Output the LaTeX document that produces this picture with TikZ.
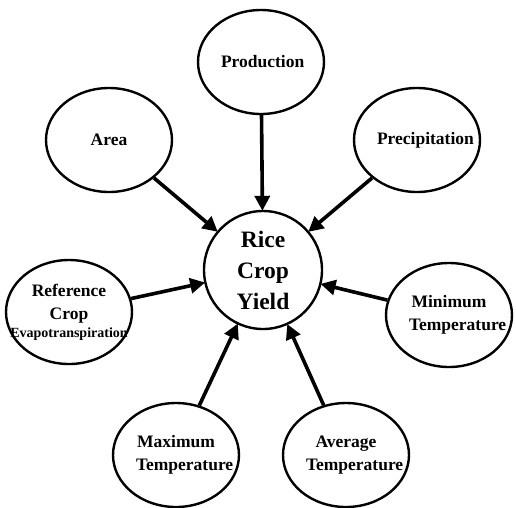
\documentclass[tikz,border=0pt]{standalone}
\usepackage{fontspec}
\setmainfont{Liberation Serif}
\usepackage{tikz}
\usetikzlibrary{shapes, arrows.meta, positioning}
\tikzstyle{wnode} = [ellipse, draw, line width=2.4pt, minimum width=126pt, minimum height=104pt, inner sep=0pt, text width=80pt, align=center, font=\bfseries\fontsize{17.5}{23}\selectfont]
\tikzstyle{ynode} = [circle, draw, line width=2.4pt, minimum size=118pt, inner sep=0pt, align=center, font=\bfseries\fontsize{23.5}{31}\selectfont]
\tikzstyle{line} = [draw, line width=3.6pt, -{Triangle[length=15pt, width=15pt]}, shorten >=-1pt]

\begin{document}
\begin{tikzpicture}[x=1pt, y=-1pt]
			\useasboundingbox (0, 0) rectangle (516, 507);
			\node [ynode] (yield) at (263, 270) {Rice\\Crop\\Yield};
			\node [wnode] (prod) at (261, 62) {Production};
			\node [wnode] (area) at (109, 140) {Area};
			\node [wnode] (prec) at (417, 140) {Precipitation};
			\node [wnode] (ref) at (69, 312) {Reference\\Crop\\[-5pt]{\fontsize{14}{15}\selectfont\makebox[0pt]{Evapotranspiration}}};
			\node [wnode] (min) at (449, 315) {Minimum\\Temperature};
			\node [wnode] (max) at (176, 455) {Maximum\\Temperature};
			\node [wnode] (avg) at (346, 455) {Average\\Temperature};
			
			\path [line] (prod) -- (yield);
			\path [line] (area) -- (yield);
			\path [line] (prec) -- (yield);
			\path [line] (ref) -- (yield);
			\path [line] (min) -- (yield);
			\path [line] (max) -- (yield);
			\path [line] (avg) -- (yield);
		\end{tikzpicture}
\end{document}
